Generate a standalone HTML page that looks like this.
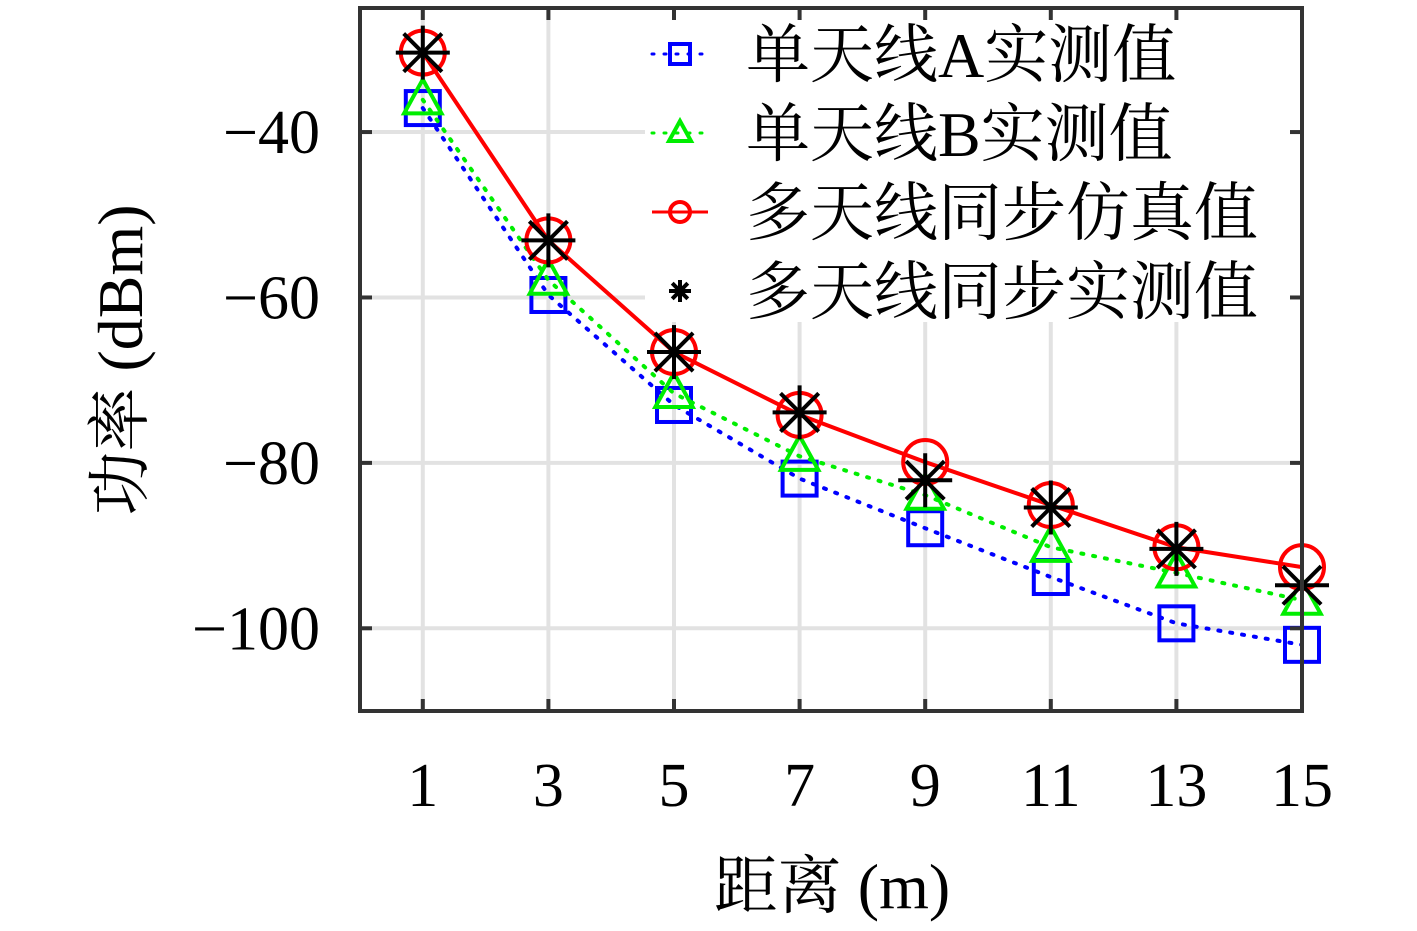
<!DOCTYPE html>
<html><head><meta charset="utf-8"><style>
html,body{margin:0;padding:0;background:#fff;}
svg{display:block;font-family:"Liberation Serif","Noto Serif CJK SC",serif;}
</style></head><body>
<svg id="chart" width="1417" height="931" viewBox="0 0 1417 931" xmlns="http://www.w3.org/2000/svg">
<g id="grid"></g>
<g id="legend-bg-g"><rect x="645" y="12" width="655" height="310" fill="#fff"/></g>
<g id="series"></g>
<g id="axes"></g>
<g id="legend"></g>
<text x="832" y="908" font-size="64" text-anchor="middle">距离 (m)</text>
<text transform="translate(142,360) rotate(-90)" font-size="64" text-anchor="middle">功率 (dBm)</text>
</svg>
<script>
const categories=[1,3,5,7,9,11,13,15];
const seriesA=[-37.1,-59.7,-73,-81.9,-87.9,-93.8,-99.4,-102];
const seriesB=[-36.1,-57.9,-71.6,-79.2,-83.9,-90.2,-93.3,-96.6];
const seriesSim=[-30.4,-53.1,-66.6,-74.2,-79.9,-85.1,-90.2,-92.6];
const seriesMeas=[-30.4,-53.1,-66.6,-73.9,-82.1,-85.4,-90.4,-94.8];
const yTicks=[-100,-80,-60,-40];
const xTicks=[1,3,5,7,9,11,13,15];
const L=360,R=1302,T=8,B=711,X0=0,X1=15,Y0=-110,Y1=-25;
const xs=v=>L+(v-X0)/(X1-X0)*(R-L);
const ys=v=>B-(v-Y0)/(Y1-Y0)*(B-T);
const NS="http://www.w3.org/2000/svg";
function mk(tag,attrs,parent){const e=document.createElementNS(NS,tag);for(const k in attrs)e.setAttribute(k,attrs[k]);parent.appendChild(e);return e;}
const grid=document.getElementById('grid'),axes=document.getElementById('axes'),ser=document.getElementById('series'),leg=document.getElementById('legend');
xTicks.forEach(t=>{
  const g=mk('line',{x1:xs(t),x2:xs(t),y1:T,y2:B,stroke:'#e2e2e2','stroke-width':4},grid);
  
  
  const tx=mk('text',{x:xs(t),y:806,'font-size':62,'text-anchor':'middle'},axes);
  tx.textContent=t;
  
  
  mk('line',{x1:xs(t),x2:xs(t),y1:B,y2:B-12,stroke:'#333','stroke-width':4},axes);
  mk('line',{x1:xs(t),x2:xs(t),y1:T,y2:T+12,stroke:'#333','stroke-width':4},axes);
});
yTicks.forEach(t=>{
  const g=mk('line',{x1:L,x2:R,y1:ys(t),y2:ys(t),stroke:'#e2e2e2','stroke-width':4},grid);
  
  
  const tx=mk('text',{x:320,y:ys(t)+21,'font-size':62,'text-anchor':'end'},axes);
  tx.textContent='\u2212'+Math.abs(t);
  
  
  mk('line',{x1:L,x2:L+12,y1:ys(t),y2:ys(t),stroke:'#333','stroke-width':4},axes);
  mk('line',{x1:R,x2:R-12,y1:ys(t),y2:ys(t),stroke:'#333','stroke-width':4},axes);
});
const box=mk('rect',{x:L,y:T,width:R-L,height:B-T,fill:'none',stroke:'#333','stroke-width':4},axes);


function marker(type,cx,cy,color,p,s){
  if(type==='sq')mk('rect',{x:cx-s,y:cy-s,width:2*s,height:2*s,fill:'none',stroke:color,'stroke-width':4},p);
  if(type==='tri')mk('polygon',{points:`${cx},${cy-s*1.2} ${cx-s*1.1},${cy+s*0.8} ${cx+s*1.1},${cy+s*0.8}`,fill:'none',stroke:color,'stroke-width':4},p);
  if(type==='circ')mk('circle',{cx:cx,cy:cy,r:s,fill:'none',stroke:color,'stroke-width':4},p);
  if(type==='star'){[0,45,90,135].forEach(a=>{const r=a*Math.PI/180;mk('line',{x1:cx-s*Math.cos(r),y1:cy-s*Math.sin(r),x2:cx+s*Math.cos(r),y2:cy+s*Math.sin(r),stroke:color,'stroke-width':4},p);});}
}
function drawSeries(vals,color,dash,type,name,line){
  const g=mk('g',{},ser);
  
  
  if(line){
    const pts=categories.map((c,i)=>xs(c)+','+ys(vals[i])).join(' ');
    const a={points:pts,fill:'none',stroke:color,'stroke-width':4};
    if(dash){a['stroke-dasharray']='2 10';a['stroke-linecap']='round';}
    mk('polyline',a,g);
  }
  categories.forEach((c,i)=>marker(type,xs(c),ys(vals[i]),color,g,type==='star'?27:(type==='circ'?22:17)));
}
drawSeries(seriesA,'#0000ff',true,'sq','series-a',true);
drawSeries(seriesB,'#00ee00',true,'tri','series-b',true);
drawSeries(seriesSim,'#ff0000',false,'circ','series-sim',true);
drawSeries(seriesMeas,'#000000',false,'star','series-meas',false);
const legItems=[['单天线A实测值','#0000ff',true,'sq',true],['单天线B实测值','#00ee00',true,'tri',true],['多天线同步仿真值','#ff0000',false,'circ',true],['多天线同步实测值','#000000',false,'star',false]];
legItems.forEach((it,i)=>{
  const y=54+i*79;
  const g=mk('g',{},leg);
  
  
  if(it[4]){const a={x1:652,x2:708,y1:y,y2:y,stroke:it[1],'stroke-width':3};if(it[2]){a['stroke-dasharray']='2 10';a['stroke-linecap']='round';}mk('line',a,g);}
  marker(it[3],680,y,it[1],g,it[3]==='star'?11:10);
  const tx=mk('text',{x:746,y:y+23,'font-size':64},g);
  tx.textContent=it[0];
});
</script>
</body></html>
